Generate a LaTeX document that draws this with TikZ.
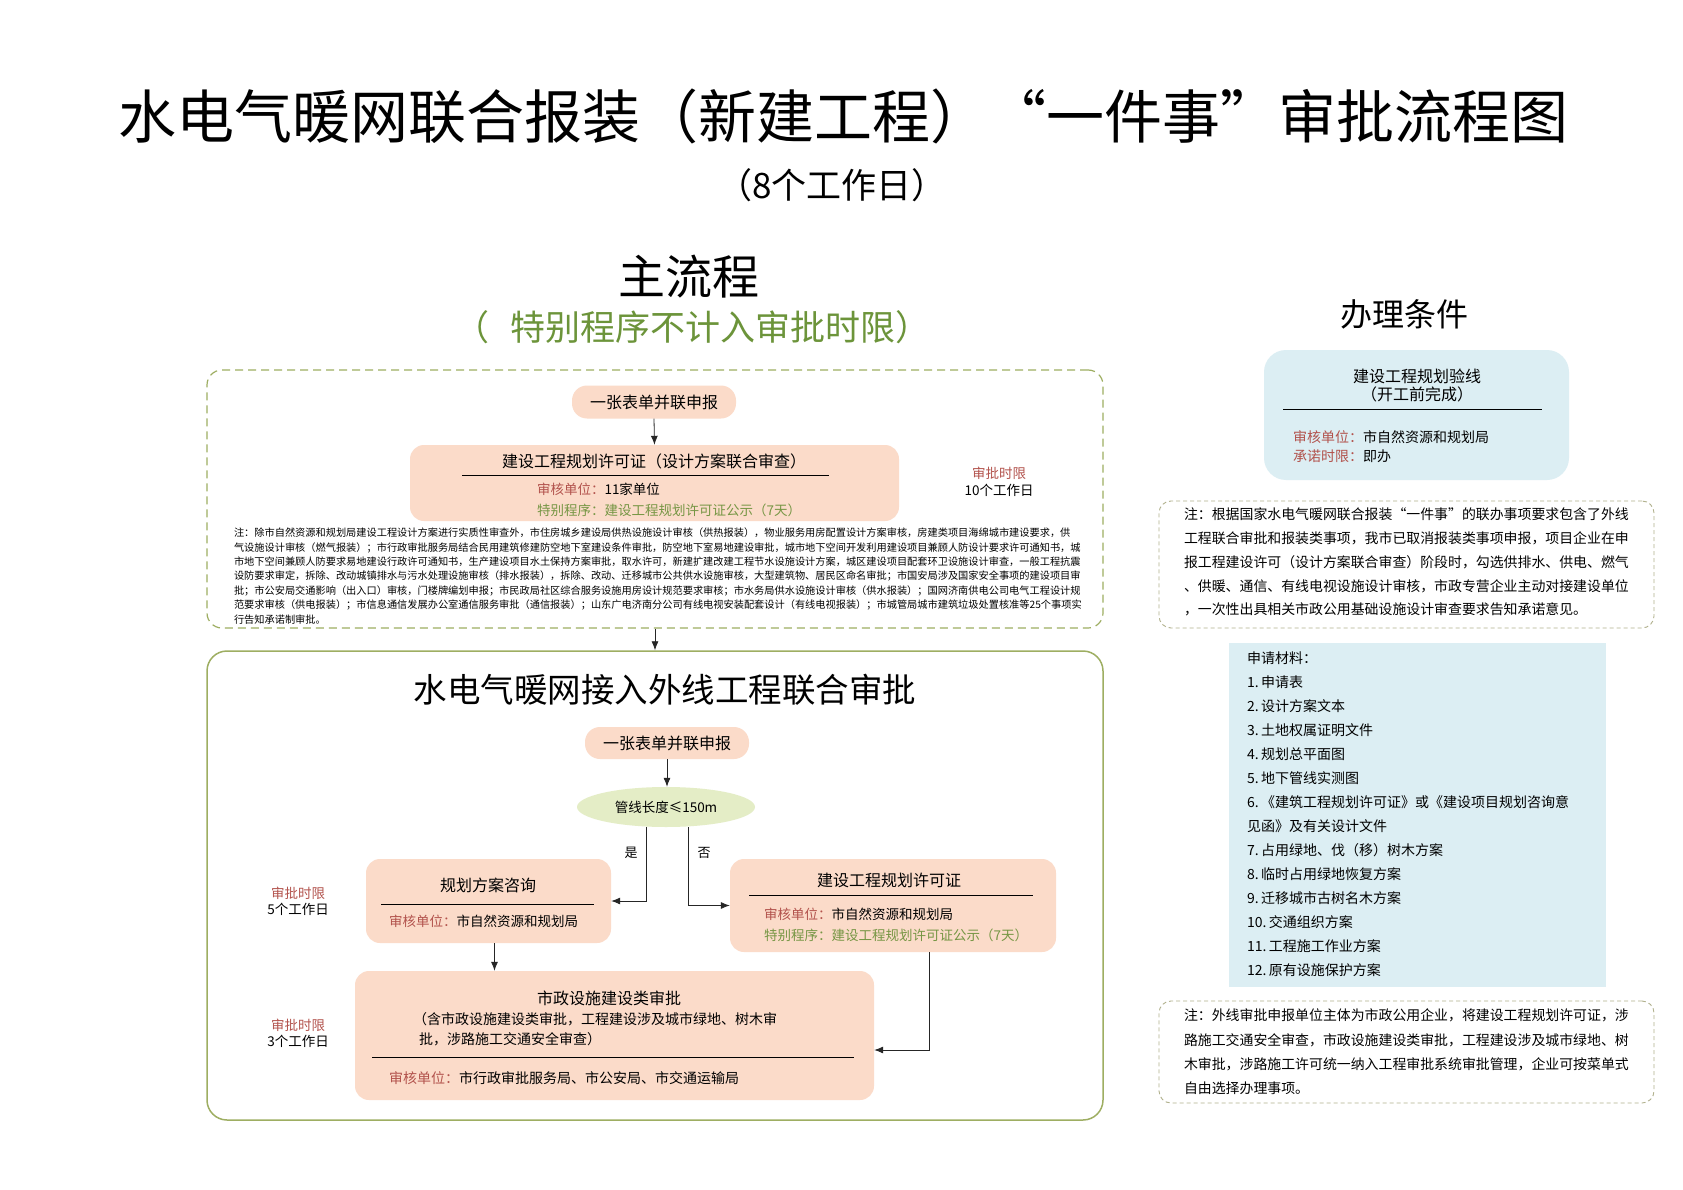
\documentclass[tikz,border=0pt]{standalone}
\usepackage{fontspec}
\setmainfont{Noto Sans CJK SC}
\usetikzlibrary{arrows.meta,shapes.geometric}
\definecolor{peach}{RGB}{251,219,201}
\definecolor{bluef}{RGB}{220,238,243}
\definecolor{ellf}{RGB}{228,237,198}
\definecolor{redc}{RGB}{178,82,76}
\definecolor{greenc}{RGB}{118,150,68}
\definecolor{tgreen}{RGB}{108,148,58}
\definecolor{oliveb}{RGB}{158,174,98}
\definecolor{dashr}{RGB}{176,176,140}
\newcommand\fsz[1]{\fontsize{#1}{#1}\selectfont}
\begin{document}
\begin{tikzpicture}[x=1pt,y=-1pt,
  txt/.style={inner sep=0pt,outer sep=0pt},
  pbox/.style={fill=peach,draw=none,rounded corners=14pt,inner sep=0pt},
  pill/.style={fill=peach,draw=none,rounded corners=15pt,inner sep=0pt,font=\fsz{16}},
  arr/.style={draw=black!85,line width=0.8pt,-{Latex[length=9pt,width=7pt]}},
  rule/.style={draw=black,line width=0.8pt},
  rnote/.style={draw=dashr,line width=0.9pt,dash pattern=on 4pt off 3pt,rounded corners=12pt,inner sep=0pt}]
\useasboundingbox[fill=white] (0,0) rectangle (1683,1190);

% titles
\node[txt,font=\fsz{58}] (title) at (843,116) {水电气暖网联合报装（新建工程）“一件事”审批流程图};
\node[txt,font=\fsz{35}] (sub) at (832,185) {（8个工作日）};
\node[txt,font=\fsz{47}] (main) at (689,277) {主流程};
\node[txt,font=\fsz{35},text=tgreen] (spec) at (692,327) {（\hspace{0.6em}特别程序不计入审批时限）};
\node[txt,font=\fsz{32}] (cond) at (1404,314) {办理条件};

% top dashed box
\node[draw=oliveb,line width=1.2pt,dash pattern=on 8pt off 5pt,rounded corners=15pt,
  minimum width=896pt,minimum height=258pt,inner sep=0pt] (topbox) at (655,499) {};
\node[pill,minimum width=164pt,minimum height=33pt] (f1) at (654,402) {一张表单并联申报};
\node[pbox,minimum width=489pt,minimum height=76pt] (b1) at (654.5,483) {};
\draw[arr] (f1.south) -- (b1.north);
\node[txt,font=\fsz{16}] (b1t) at (654,461) {建设工程规划许可证（设计方案联合审查）};
\draw[rule] (462,475) -- (829,475);
\node[txt,font=\fsz{13.5},anchor=west] (b1a) at (537,489) {{\color{redc}审核单位：}11家单位};
\node[txt,font=\fsz{13.5},anchor=west,text=greenc] (b1b) at (537,510) {特别程序：建设工程规划许可证公示（7天）};
\node[txt,font=\fsz{13.5},text=redc] (t1a) at (999,473) {审批时限};
\node[txt,font=\fsz{13.5}] (t1b) at (999,490) {10个工作日};
\node[txt,anchor=north west,align=left,font=\fontsize{10.2}{14.4}\selectfont] (note1) at (234,528) {注：除市自然资源和规划局建设工程设计方案进行实质性审查外，市住房城乡建设局供热设施设计审核（供热报装），物业服务用房配置设计方案审核，房建类项目海绵城市建设要求，供\\
气设施设计审核（燃气报装）；市行政审批服务局结合民用建筑修建防空地下室建设条件审批，防空地下室易地建设审批，城市地下空间开发利用建设项目兼顾人防设计要求许可通知书，城\\
市地下空间兼顾人防要求易地建设行政许可通知书，生产建设项目水土保持方案审批，取水许可，新建扩建改建工程节水设施设计方案，城区建设项目配套环卫设施设计审查，一般工程抗震\\
设防要求审定，拆除、改动城镇排水与污水处理设施审核（排水报装），拆除、改动、迁移城市公共供水设施审核，大型建筑物、居民区命名审批；市国安局涉及国家安全事项的建设项目审\\
批；市公安局交通影响（出入口）审核，门楼牌编划申报；市民政局社区综合服务设施用房设计规范要求审核；市水务局供水设施设计审核（供水报装）；国网济南供电公司电气工程设计规\\
范要求审核（供电报装）；市信息通信发展办公室通信服务审批（通信报装）；山东广电济南分公司有线电视安装配套设计（有线电视报装）；市城管局城市建筑垃圾处置核准等25个事项实\\
行告知承诺制审批。};

% main lower box
\node[draw=oliveb,line width=1.5pt,rounded corners=20pt,minimum width=896pt,minimum height=469pt,inner sep=0pt] (mainbox) at (655,885.5) {};
\draw[arr] (topbox.south) -- (mainbox.north);
\node[txt,font=\fsz{33.5}] (t2) at (665,690) {水电气暖网接入外线工程联合审批};
\node[pill,minimum width=164pt,minimum height=32pt] (f2) at (667,743) {一张表单并联申报};
\node[ellipse,fill=ellf,draw=none,minimum width=178pt,minimum height=40pt,inner sep=0pt,font=\fsz{13.5}] (ell) at (666,807) {管线长度≤150m};
\draw[arr] (f2.south) -- (f2.south |- ell.north);

\node[pbox,minimum width=245pt,minimum height=84pt] (b2) at (488.5,901) {};
\node[txt,font=\fsz{16}] (b2t) at (488,885) {规划方案咨询};
\draw[rule] (381,904) -- (594,904);
\node[txt,font=\fsz{13.5},anchor=west] (b2a) at (389,921) {{\color{redc}审核单位：}市自然资源和规划局};

\node[pbox,minimum width=326pt,minimum height=93pt] (b3) at (893,905.5) {};
\node[txt,font=\fsz{16}] (b3t) at (889,880) {建设工程规划许可证};
\draw[rule] (749,895) -- (1033,895);
\node[txt,font=\fsz{13.5},anchor=west] (b3a) at (764,914) {{\color{redc}审核单位：}市自然资源和规划局};
\node[txt,font=\fsz{13.5},anchor=west,text=greenc] (b3b) at (764,935) {特别程序：建设工程规划许可证公示（7天）};

\node[pbox,minimum width=519pt,minimum height=129pt] (b4) at (614.5,1035.5) {};
\node[txt,font=\fsz{16}] (b4t) at (609,998) {市政设施建设类审批};
\node[txt,font=\fsz{14},anchor=west] (b4a) at (413,1019) {（含市政设施建设类审批，工程建设涉及城市绿地、树木审};
\node[txt,font=\fsz{14},anchor=west] (b4b) at (419,1039) {批，涉路施工交通安全审查）};
\draw[rule] (372,1057) -- (854,1057);
\node[txt,font=\fsz{14},anchor=west] (b4c) at (389,1078) {{\color{redc}审核单位：}市行政审批服务局、市公安局、市交通运输局};

\draw[arr] ([xshift=-20pt]ell.south) |- (b2.east);
\draw[arr] ([xshift=22pt]ell.south) |- (b3.west);
\node[txt,font=\fsz{13}] (yes) at (631,853) {是};
\node[txt,font=\fsz{13}] (no) at (704,853) {否};
\draw[arr] ([xshift=6pt]b2.south) -- ([xshift=6pt]b2.south |- b4.north);
\draw[arr] ([xshift=36pt]b3.south) |- ([yshift=-14.5pt]b4.east);

\node[txt,font=\fsz{13.5},text=redc] (t2a) at (298,893) {审批时限};
\node[txt,font=\fsz{13.5}] (t2b) at (298,909) {5个工作日};
\node[txt,font=\fsz{13.5},text=redc] (t3a) at (298,1025) {审批时限};
\node[txt,font=\fsz{13.5}] (t3b) at (298,1041) {3个工作日};

% right column
\node[fill=bluef,draw=none,rounded corners=22pt,minimum width=305pt,minimum height=130pt,inner sep=0pt] (blue1) at (1416.5,415) {};
\node[txt,font=\fsz{16}] (bl1) at (1417,376) {建设工程规划验线};
\node[txt,font=\fsz{16}] (bl2) at (1417,394) {（开工前完成）};
\draw[rule] (1283,409) -- (1542,409);
\node[txt,font=\fsz{14},anchor=west] (bl3) at (1293,437) {{\color{redc}审核单位：}市自然资源和规划局};
\node[txt,font=\fsz{14},anchor=west] (bl4) at (1293,456) {{\color{redc}承诺时限：}即办};

\node[rnote,minimum width=495pt,minimum height=127pt] (note2box) at (1406.5,564.5) {};
\node[txt,anchor=north west,align=left,font=\fontsize{13.9}{23.8}\selectfont] (note2) at (1184,508) {注：根据国家水电气暖网联合报装“一件事”的联办事项要求包含了外线\\
工程联合审批和报装类事项，我市已取消报装类事项申报，项目企业在申\\
报工程建设许可（设计方案联合审查）阶段时，勾选供排水、供电、燃气\\
、供暖、通信、有线电视设施设计审核，市政专营企业主动对接建设单位\\
，一次性出具相关市政公用基础设施设计审查要求告知承诺意见。};

\node[fill=bluef,draw=none,minimum width=377pt,minimum height=344pt,inner sep=0pt] (matbox) at (1417.5,815) {};
\node[txt,anchor=north west,align=left,font=\fontsize{14}{24}\selectfont] (mat) at (1247,652) {申请材料：\\
1.\,申请表\\
2.\,设计方案文本\\
3.\,土地权属证明文件\\
4.\,规划总平面图\\
5.\,地下管线实测图\\
6.\,《建筑工程规划许可证》或《建设项目规划咨询意\\
见函》及有关设计文件\\
7.\,占用绿地、伐（移）树木方案\\
8.\,临时占用绿地恢复方案\\
9.\,迁移城市古树名木方案\\
10.\,交通组织方案\\
11.\,工程施工作业方案\\
12.\,原有设施保护方案};

\node[rnote,minimum width=495pt,minimum height=102pt] (note3box) at (1406.5,1052) {};
\node[txt,anchor=north west,align=left,font=\fontsize{13.9}{24.2}\selectfont] (note3) at (1184,1009) {注：外线审批申报单位主体为市政公用企业，将建设工程规划许可证，涉\\
路施工交通安全审查，市政设施建设类审批，工程建设涉及城市绿地、树\\
木审批，涉路施工许可统一纳入工程审批系统审批管理，企业可按菜单式\\
自由选择办理事项。};
\end{tikzpicture}
\end{document}
